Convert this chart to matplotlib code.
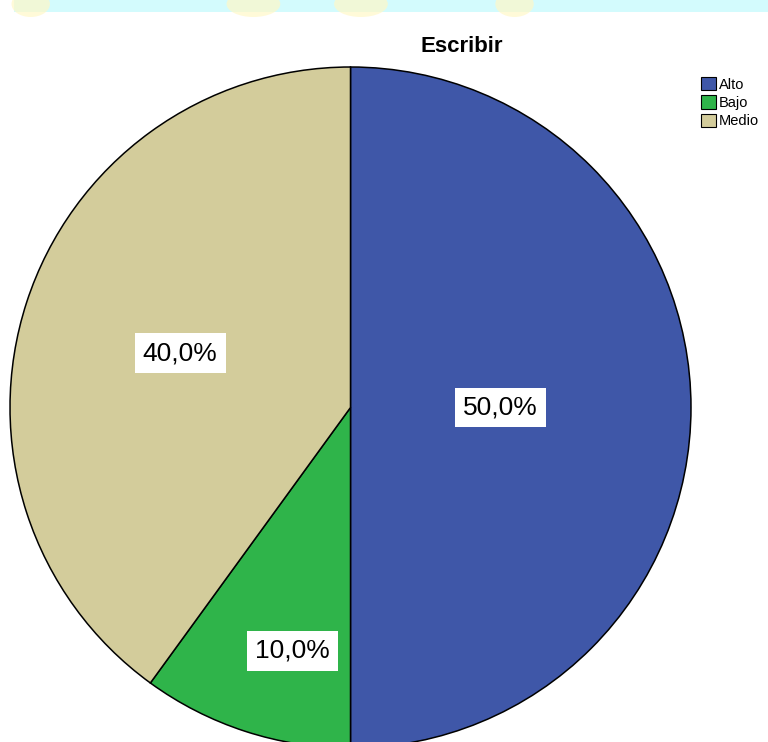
import matplotlib.pyplot as plt
from matplotlib.patches import Rectangle, Ellipse

plt.rcParams["font.family"] = ["Liberation Sans", "DejaVu Sans"]

categories = ["Alto", "Bajo", "Medio"]
percentages = [50.0, 10.0, 40.0]
colors = ["#3f57a8", "#2fb44a", "#d3cc9b"]
title = "Escribir"

# label centres in units of the pie radius
label_xy = [(0.44, 0.0), (-0.17, -0.715), (-0.50, 0.16)]

W, H = 768, 742
cx, cy, R = 350.5, 407.5, 340.5  # pie centre / radius in pixels (from top)

fig = plt.figure(figsize=(W / 100, H / 100), dpi=100)
fig.patch.set_facecolor("white")

# decorative band along the top edge
fig.patches.append(Rectangle((14 / W, 1 - 12 / H), 1, 12 / H, transform=fig.transFigure,
                             facecolor="#d3fbfd", edgecolor="none", zorder=0))
for x0, w in [(0.04, 0.05), (0.33, 0.07), (0.47, 0.07), (0.67, 0.05)]:
    fig.patches.append(Ellipse((x0, 1 - 4 / H), w, 26 / H, transform=fig.transFigure,
                               facecolor="#fff8c8", edgecolor="none", alpha=0.7, zorder=0))

ax = fig.add_axes([0, 0, 1, 1])
wedges, _, autotexts = ax.pie(
    percentages,
    colors=colors,
    startangle=90,
    counterclock=False,
    autopct=lambda p: f"{p:.1f}%".replace(".", ","),
    wedgeprops=dict(edgecolor="black", linewidth=1.1),
    textprops=dict(fontsize=19, color="black"),
)
ax.set_aspect("auto")
ax.set_xlim(-cx / R, (W - cx) / R)
ax.set_ylim(-(H - cy) / R, cy / R)
ax.axis("off")

for t, pos in zip(autotexts, label_xy):
    t.set_position(pos)
    t.set_bbox(dict(boxstyle="square,pad=0.3", facecolor="white", edgecolor="none"))

fig.text(462 / W, 1 - 47 / H, title, ha="center", va="center",
         fontsize=16, fontweight="bold")

leg = ax.legend(
    wedges, categories,
    loc="upper left",
    bbox_to_anchor=(694 / W, 1 - 70 / H),
    bbox_transform=fig.transFigure,
    frameon=False,
    fontsize=10.5,
    handlelength=1.0,
    handleheight=1.0,
    handletextpad=0.2,
    labelspacing=0.25,
    borderpad=0,
)
for h in leg.legend_handles:
    h.set_linewidth(0.8)

fig.savefig("out.png", dpi=100)
